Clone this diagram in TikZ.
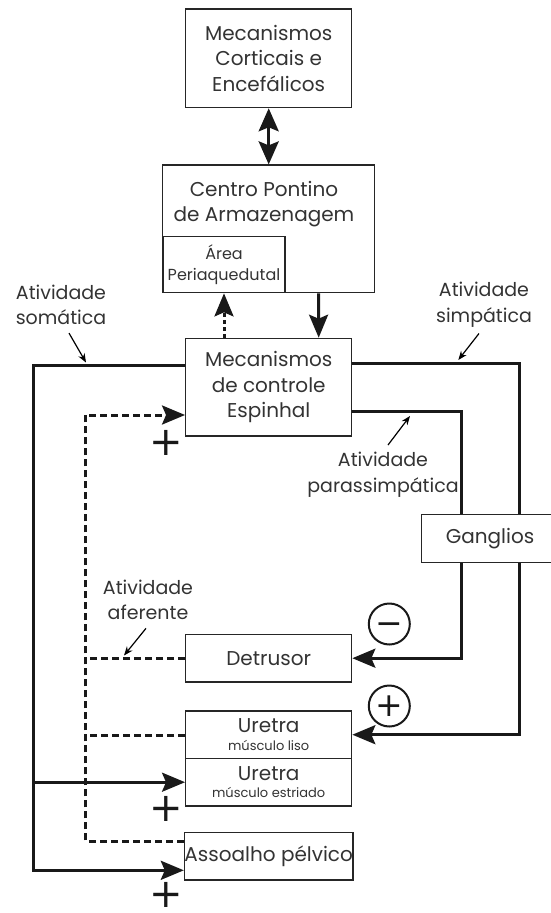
\documentclass[tikz,border=0pt]{standalone}
\usepackage{fontspec}
\setmainfont{Poppins}
\newfontfamily\signfont{DejaVu Sans}
\usetikzlibrary{arrows.meta}

\begin{document}
\begin{tikzpicture}[x=1pt,y=-1pt,
        box/.style={draw=black!85, line width=1.3pt, minimum width=166pt, inner sep=0pt, align=center, text=black!80, font=\fontsize{20}{25.5}\selectfont},
        note/.style={inner sep=0pt, align=center, text=black!80, font=\fontsize{19}{25.6}\selectfont},
        nerve/.style={line width=3pt, black!90},
        afferent/.style={line width=3pt, black!90, dash pattern=on 7pt off 4pt},
        tip/.style={-{Stealth[length=23pt,width=19pt,inset=4pt]}},
        pointer/.style={line width=1.2pt, -{Stealth[length=9pt,width=7pt]}},
        plus/.style={inner sep=0pt, text=black!90, font=\signfont\fontsize{40}{40}\selectfont},
        circsign/.style={draw=black!90, circle, line width=2pt, minimum size=41pt, inner sep=0pt, text=black!90, font=\signfont\fontsize{33}{33}\selectfont}]
        \useasboundingbox (0,0) rectangle (551,913);

        \node[box, minimum height=98.7pt] at (268.7,58.3) (cortex) {Mecanismos\\Corticais e\\Encefálicos};

        \node[box, minimum width=211.6pt, minimum height=127.7pt] at (268.5,228.9) (pontine) {};
        \node[note, font=\fontsize{20}{25.5}\selectfont] at (264,204) (pontinetext) {Centro Pontino\\de Armazenagem};
        \node[box, minimum width=122pt, minimum height=56pt, font=\fontsize{16}{20.7}\selectfont] at (224,264.7) (pag) {Área\\Periaquedutal};

        \node[box, minimum height=97.7pt] at (268.7,387.2) (spinal) {Mecanismos\\de controle\\Espinhal};

        \node[box, minimum height=47.7pt] at (268.7,658.2) (detrusor) {Detrusor};
        \node[box, minimum height=47.3pt] at (268.7,734.7) (smooth) {Uretra\\[-8pt]{\fontsize{13}{15}\selectfont músculo liso}};
        \node[box, minimum height=47.7pt] at (268.7,782.2) (striated) {Uretra\\[-8pt]{\fontsize{13}{15}\selectfont músculo estriado}};
        \node[box, minimum height=47.3pt] at (268.7,856.3) (pelvic) {Assoalho pélvico};

        \coordinate (som) at (33.3,365);
        \coordinate (sym) at (519.3,363.3);
        \coordinate (para) at (461.7,411.7);
        \coordinate (aff) at (85.7,415);

        \draw[nerve, {Stealth[length=23pt,width=20pt,inset=4pt]}-{Stealth[length=23pt,width=20pt,inset=4pt]}] (cortex.south) -- (cortex.south |- pontine.north);
        \draw[nerve, tip] ([xshift=50pt]pontine.south) -- ([xshift=50pt]spinal.north);
        \draw[line width=3pt, black!90, dash pattern=on 4pt off 3pt, tip] (pag.south |- spinal.north) -- (pag.south);

        \draw[nerve, tip] (spinal.west |- som) -- (som) |- ([yshift=-14pt]pelvic.west);
        \draw[nerve, tip] (som |- striated.west) -- (striated.west);
        \draw[nerve, tip] (spinal.east |- sym) -- (sym) |- (smooth.east);
        \draw[nerve, tip] (spinal.east |- para) -- (para) |- (detrusor.east);

        \draw[afferent, tip] ([yshift=15pt]pelvic.west) -| (aff) -- (spinal.west |- aff);
        \draw[afferent] (detrusor.west) -- (detrusor.west -| aff);
        \draw[afferent] ([yshift=-1pt]smooth.west) -- ([yshift=-1pt]smooth.west -| aff);

        \node[box, minimum width=137pt, minimum height=48pt, fill=white] at (490,538.3) (ganglia) {Ganglios};

        \node[note] at (61,304.8) (somlabel) {Atividade\\somática};
        \node[note] at (484,304.8) (symlabel) {Atividade\\simpática};
        \node[note] at (383,474.7) (paralabel) {Atividade\\parassimpática};
        \node[note] at (148,600) (afflabel) {Atividade\\aferente};

        \coordinate (somhit) at (86,362.5);
        \coordinate (symhit) at (458.3,360);
        \coordinate (parahit) at (410,416);
        \coordinate (affhit) at (124,655.5);

        \draw[pointer] ([xshift=8pt,yshift=-8pt]somlabel.south) -- (somhit);
        \draw[pointer] ([xshift=-5pt,yshift=-6pt]symlabel.south) -- (symhit);
        \draw[pointer] ([xshift=5pt,yshift=7pt]paralabel.north) -- (parahit);
        \draw[pointer] ([xshift=-2pt,yshift=-8pt]afflabel.south) -- (affhit);

        \node[circsign] at (389.3,624) (inhibit) {\vphantom{+}−};
        \node[circsign] at (389.3,706) (excite) {+};

        \node[plus] at (166.7,442.7) (plusspinal) {+};
        \node[plus] at (166.7,809.3) (plusstriated) {+};
        \node[plus] at (166.7,895) (pluspelvic) {+};
    \end{tikzpicture}
\end{document}
